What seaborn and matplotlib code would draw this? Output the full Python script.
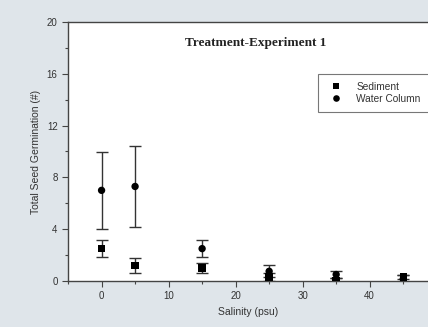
import numpy as np
import pandas as pd
import seaborn as sns
import matplotlib.pyplot as plt

salinity = [0, 5, 15, 25, 35, 45]
sediment = [2.5, 1.2, 1.0, 0.3, 0.05, 0.3]
sediment_err = [0.65, 0.6, 0.4, 0.3, 0.15, 0.15]
water = [7.0, 7.3, 2.5, 0.75, 0.5, 0.15]
water_err = [2.95, 3.15, 0.65, 0.45, 0.3, 0.3]

sns.set_style("ticks")
plt.rcParams['font.family'] = ['Liberation Sans', 'DejaVu Sans']

bg = '#dfe5ea'
fig = plt.figure(figsize=(4.28, 3.27), dpi=100, facecolor=bg)
ax = fig.add_axes([0.159, 0.1407, 0.841, 0.792])

ax.errorbar(salinity, sediment, yerr=sediment_err, fmt='none', ecolor='#333333',
            elinewidth=1.0, capsize=4, capthick=1.0, zorder=2)
ax.errorbar(salinity, water, yerr=water_err, fmt='none', ecolor='#333333',
            elinewidth=1.0, capsize=4, capthick=1.0, zorder=2)

df = pd.DataFrame({
    'x': salinity * 2,
    'y': sediment + water,
    'grp': ['Sediment'] * 6 + ['Water Column'] * 6,
})
sns.scatterplot(data=df, x='x', y='y', style='grp', markers={'Sediment': 's', 'Water Column': 'o'},
                color='black', s=28, edgecolor='black', linewidth=0, ax=ax, zorder=3)

ax.set_xlim(-5, 48.7)
ax.set_ylim(0, 20)
ax.set_xticks([0, 10, 20, 30, 40])
ax.set_xticks([-5, 5, 15, 25, 35, 45], minor=True)
ax.set_yticks([0, 4, 8, 12, 16, 20])
ax.set_yticks([2, 6, 10, 14, 18], minor=True)
ax.tick_params(axis='both', which='major', labelsize=7, length=4, width=0.8, color='#444444', labelcolor='#333333')
ax.tick_params(axis='both', which='minor', length=2.5, width=0.8, color='#444444')
for s in ['left', 'bottom', 'top']:
    ax.spines[s].set_color('#444444')
    ax.spines[s].set_linewidth(1.0)
ax.spines['right'].set_visible(False)

ax.set_xlabel('Salinity (psu)', fontsize=7.5, color='#333333')
ax.set_ylabel('Total Seed Germination (#)', fontsize=7.5, color='#333333')
ax.text(0.52, 0.92, 'Treatment-Experiment 1', transform=ax.transAxes, ha='center', va='center',
        fontsize=9.5, fontweight='bold', family=['Liberation Serif', 'DejaVu Serif'], color='#222222')

leg = ax.legend(loc='upper left', bbox_to_anchor=(0.694, 0.80), fontsize=7.3, frameon=True,
                fancybox=False, edgecolor='#555555', handletextpad=1.0, borderpad=0.8,
                labelspacing=0.2, markerscale=0.9, borderaxespad=0)
leg.get_frame().set_linewidth(0.8)
for t in leg.get_texts():
    t.set_color('#333333')

fig.savefig('out.png', dpi=100, facecolor=bg)
